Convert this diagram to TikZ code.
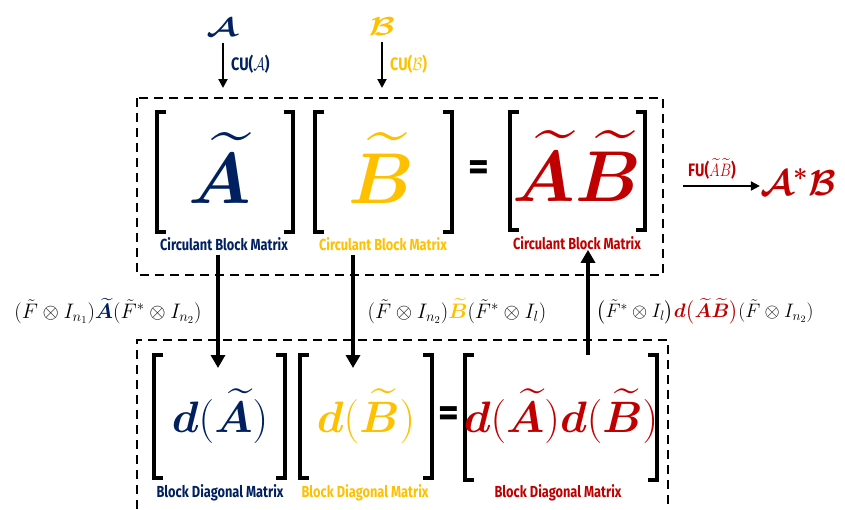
\RequirePackage{fix-cm}
\documentclass[tikz,border=0pt]{standalone}
\usepackage{amsmath,amssymb,bm}
\usepackage{fontspec}
\newfontfamily\lblfont{Fira Sans}
\usetikzlibrary{arrows.meta}
\definecolor{cnavy}{HTML}{002060}
\definecolor{cgold}{HTML}{FFC000}
\definecolor{cred}{HTML}{C00000}
\newcommand\condlbl[1]{\scalebox{0.8}[1]{\lblfont\bfseries #1}}
\newcommand\lbrk[3]{\draw[brk] (#1+9,#2) -- (#1,#2) -- (#1,#3) -- (#1+9,#3);}
\newcommand\rbrk[3]{\draw[brk] (#1-9,#2) -- (#1,#2) -- (#1,#3) -- (#1-9,#3);}
\begin{document}
\begin{tikzpicture}[x=1pt,y=-1pt,
  dbox/.style={line width=1.8pt, dash pattern=on 9pt off 6pt},
  brk/.style={line width=3.5pt, line join=miter},
  bigarrow/.style={line width=3.5pt, -{Triangle[width=14pt,length=13pt]}},
  smallarrow/.style={line width=2pt, -{Triangle[width=9pt,length=9pt]}},
  boxlbl/.style={inner sep=0pt, font=\fontsize{16}{18}\selectfont},
  smalllbl/.style={inner sep=0pt, font=\fontsize{18}{20}\selectfont},
  bigmath/.style={inner sep=0pt, font=\fontsize{72}{80}\selectfont},
  midmath/.style={inner sep=0pt, font=\fontsize{44}{50}\selectfont},
  eqlbl/.style={inner sep=0pt, font=\fontsize{21}{24}\selectfont},
  eqsign/.style={inner sep=0pt, font=\fontsize{40}{42}\selectfont\lblfont\bfseries}]
\useasboundingbox (0,0) rectangle (845,509);

% dashed boxes
\draw[dbox] (137,98) rectangle (663,275);
\draw[dbox] (137,509) -- (137,340) -- (668,340) -- (668,509);

% top inputs
\node[inner sep=0pt, text=cnavy, font=\fontsize{26}{28}\selectfont] (inA) at (222,28) {\scalebox{1.3}[1]{$\bm{\mathcal{A}}$}};
\node[inner sep=0pt, text=cgold, font=\fontsize{26}{28}\selectfont] (inB) at (382,27) {\scalebox{1.3}[1]{$\bm{\mathcal{B}}$}};
\coordinate (cuAend) at (223,88);
\coordinate (cuBend) at (382,88);
\draw[smallarrow] (inA.south -| cuAend) ++(0,6) -- (cuAend);
\draw[smallarrow] (inB.south -| cuBend) ++(0,6) -- (cuBend);
\node[smalllbl, anchor=west, text=cnavy] (cuA) at (231,64) {\condlbl{CU($\mathcal{A}$)}};
\node[smalllbl, anchor=west, text=cgold] (cuB) at (390,64) {\condlbl{CU($\mathcal{B}$)}};

% top brackets
\lbrk{157}{112}{232}\rbrk{293}{112}{232}
\lbrk{315}{112}{232}\rbrk{452}{112}{232}
\lbrk{510}{112}{230}\rbrk{645}{112}{230}

\node[bigmath, text=cnavy] (tA) at (220,168) {$\bm{\widetilde{A}}$};
\node[bigmath, text=cgold] (tB) at (381,168) {$\bm{\widetilde{B}}$};
\node[bigmath, text=cred] (tAB) at (577,166) {$\bm{\widetilde{A}\widetilde{B}}$};
\node[eqsign] (eq1) at (479,171) {=};

\node[boxlbl, text=cnavy] (lA) at (224,244) {\condlbl{Circulant Block Matrix}};
\node[boxlbl, text=cgold] (lB) at (383,244) {\condlbl{Circulant Block Matrix}};
\node[boxlbl, text=cred] (lAB) at (577,243) {\condlbl{Circulant Block Matrix}};

% FU arrow
\node[inner sep=0pt, text=cred, font=\fontsize{36}{40}\selectfont] (res) at (798,182) {$\bm{\mathcal{A}}^{\bm{*}}\bm{\mathcal{B}}$};
\coordinate (fuStart) at (683,186);
\draw[smallarrow] (fuStart) -- (res.west |- fuStart);
\node[smalllbl, text=cred] (fu) at (712,169) {\condlbl{FU($\widetilde{A}\widetilde{B}$)}};

% bottom brackets
\lbrk{154}{355}{478}\rbrk{285}{355}{478}
\lbrk{300}{355}{478}\rbrk{432}{355}{478}
\lbrk{465}{355}{480}\rbrk{657}{355}{480}

\node[midmath, text=cnavy] (dA) at (220,416) {$\bm{d}(\bm{\widetilde{A}})$};
\node[midmath, text=cgold] (dB) at (366,416) {$\bm{d}(\bm{\widetilde{B}})$};
\node[midmath, text=cred] (dAB) at (561,416) {$\bm{d}(\bm{\widetilde{A}})\bm{d}(\bm{\widetilde{B}})$};
\node[eqsign] (eq2) at (449,417) {=};

\node[boxlbl, text=cnavy] (bA) at (220,493) {\condlbl{Block Diagonal Matrix}};
\node[boxlbl, text=cgold] (bB) at (365,493) {\condlbl{Block Diagonal Matrix}};
\node[boxlbl, text=cred] (bAB) at (558,493) {\condlbl{Block Diagonal Matrix}};

% transform arrows
\coordinate (downAend) at (218,368);
\coordinate (downBend) at (353,368);
\coordinate (upStart) at (588,355);
\draw[bigarrow] (lA.south -| downAend) ++(0,4) -- (downAend);
\draw[bigarrow] (lB.south -| downBend) ++(0,4) -- (downBend);
\draw[bigarrow] (upStart) -- (lAB.south -| upStart);

% transform labels
\node[eqlbl] (tfA) at (108,311) {$(\tilde F\otimes I_{n_1})\textcolor{cnavy}{\bm{\widetilde{A}}}(\tilde F^{*}\otimes I_{n_2})$};
\node[eqlbl] (tfB) at (457,311) {$(\tilde F\otimes I_{n_2})\textcolor{cgold}{\bm{\widetilde{B}}}(\tilde F^{*}\otimes I_{l})$};
\node[eqlbl, font=\fontsize{19.5}{22}\selectfont] (tfAB) at (705,311) {$\bigl(\tilde F^{*}\otimes I_{l}\bigr)\textcolor{cred}{\bm{d}\bigl(\bm{\widetilde{A}\widetilde{B}}\bigr)}(\tilde F\otimes I_{n_2})$};
\end{tikzpicture}
\end{document}
